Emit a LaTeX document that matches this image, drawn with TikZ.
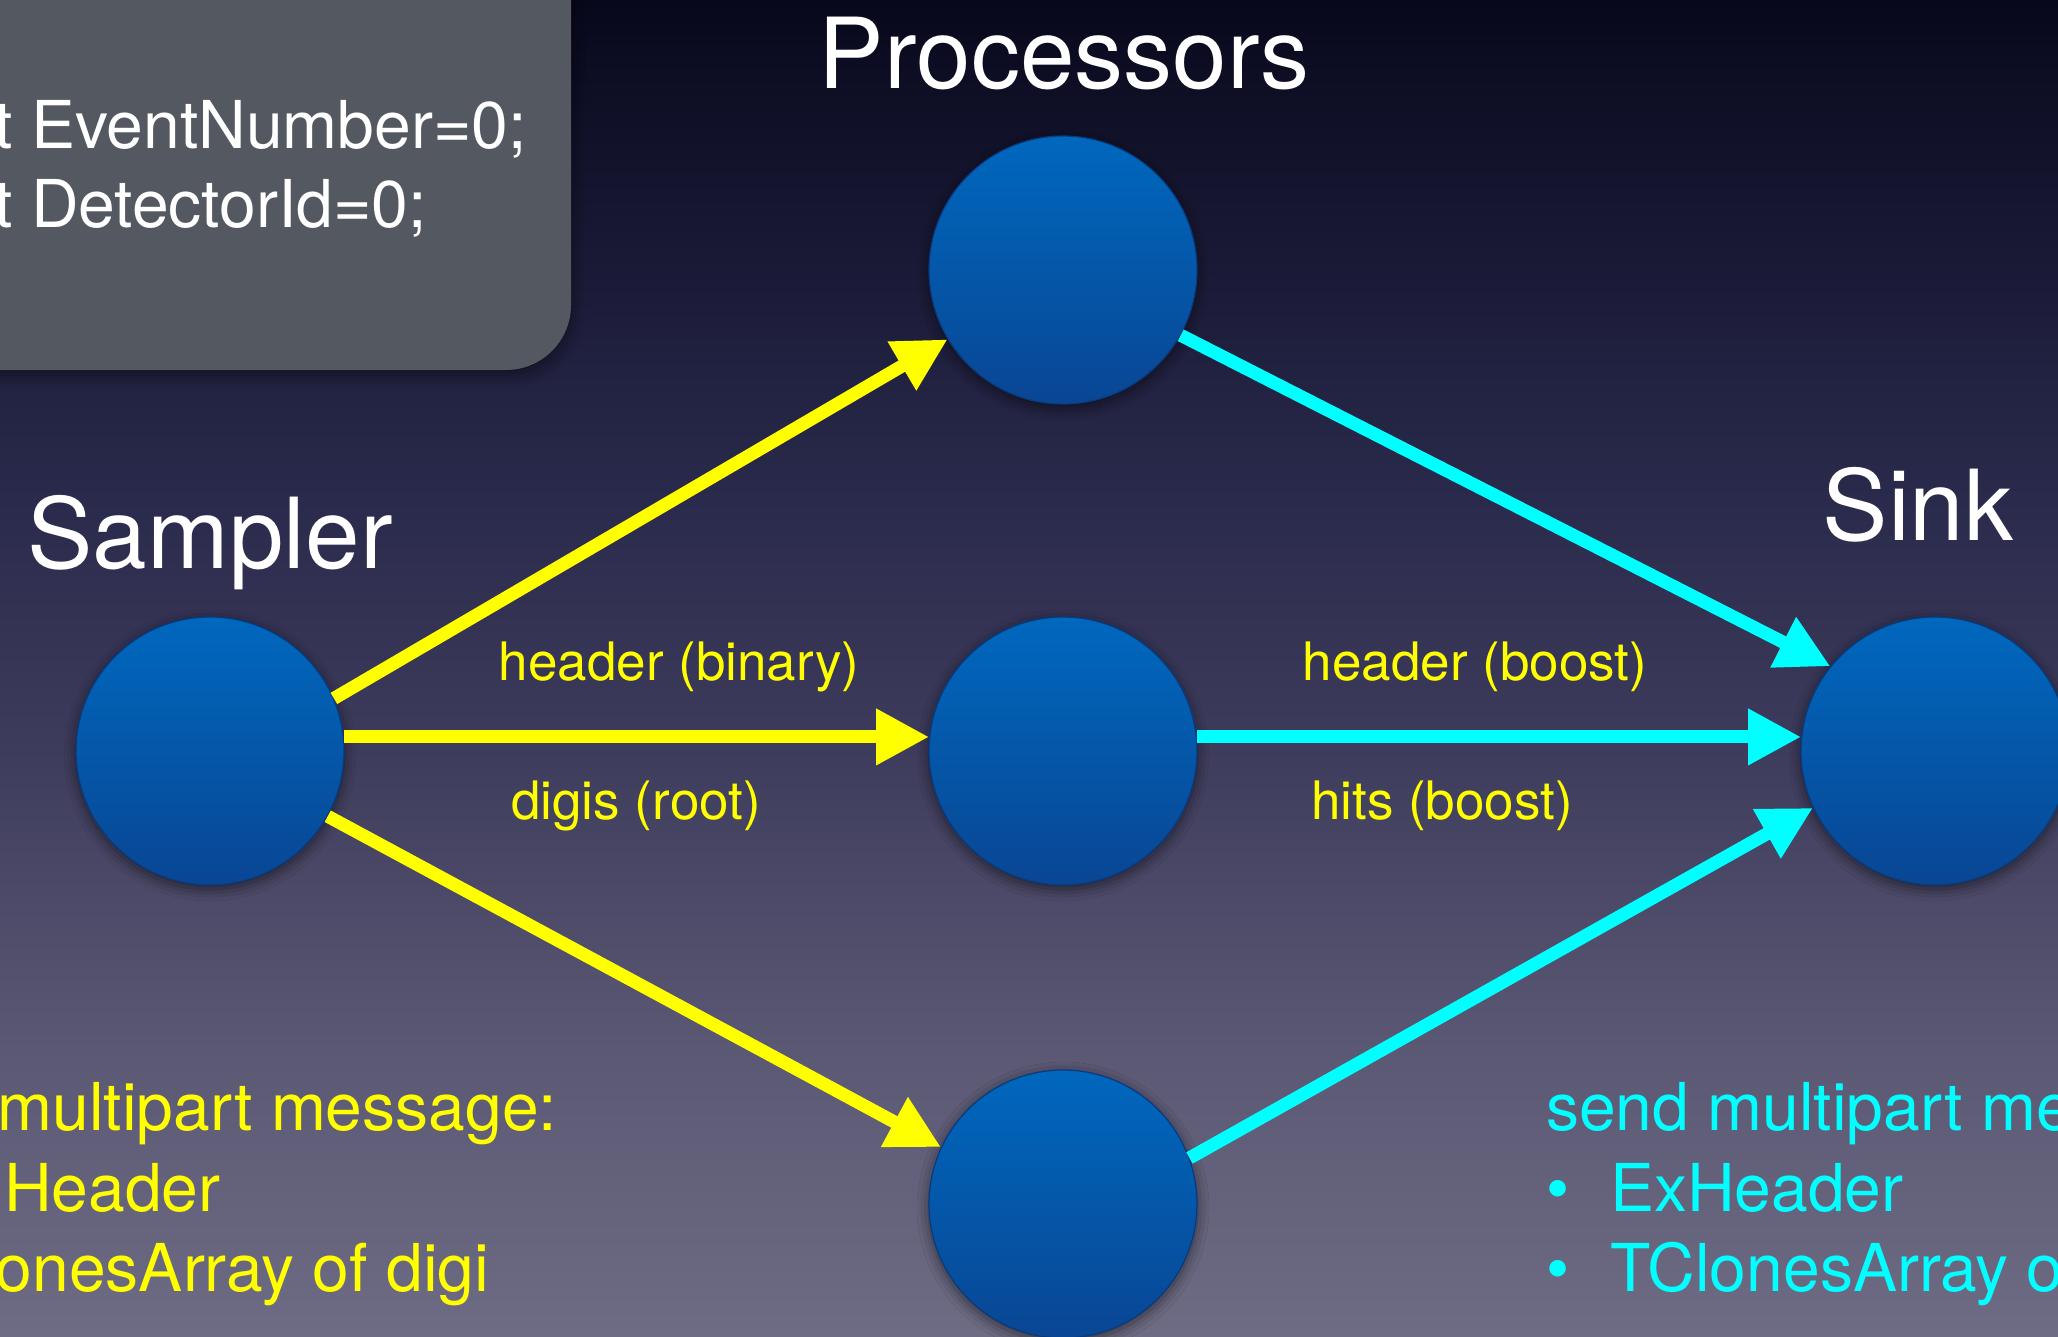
\documentclass[tikz,border=0pt]{standalone}
\usepackage{fontspec}
\setmainfont{TeX Gyre Heros}
\usetikzlibrary{arrows.meta,shadows.blur}
\definecolor{bgA}{RGB}{8,8,28}
\definecolor{bgB}{RGB}{28,28,58}
\definecolor{bgC}{RGB}{42,42,76}
\definecolor{bgD}{RGB}{62,60,92}
\definecolor{bgE}{RGB}{90,88,115}
\definecolor{bgF}{RGB}{110,108,132}
\definecolor{nodeTop}{RGB}{0,104,190}
\definecolor{nodeBot}{RGB}{9,70,148}
\definecolor{nodeEdge}{RGB}{8,58,125}
\definecolor{boxgray}{RGB}{84,88,96}
\definecolor{ycol}{RGB}{255,255,0}
\definecolor{ccol}{RGB}{0,255,255}
\pgfdeclareverticalshading{bgshade}{100bp}{color(0bp)=(bgF); color(25bp)=(bgF); color(35.7bp)=(bgE); color(46.93bp)=(bgD); color(56.29bp)=(bgC); color(63.77bp)=(bgB); color(75bp)=(bgA); color(100bp)=(bgA)}
\begin{document}
\begin{tikzpicture}[x=1pt,y=-1pt,
  proc/.style={circle, minimum size=268pt, inner sep=0pt, top color=nodeTop, bottom color=nodeBot, draw=nodeEdge, line width=1.2pt,
    blur shadow={shadow xshift=0pt, shadow yshift=-4pt, shadow blur radius=12pt, shadow opacity=55}},
  yarr/.style={draw=ycol, line width=13pt, -{Triangle[length=53pt,width=53pt]}},
  carr/.style={draw=ccol, line width=13pt, -{Triangle[length=53pt,width=53pt]}},
  title/.style={font=\fontsize{98}{118}\selectfont, text=white, inner sep=0pt, anchor=base},
  lab/.style={font=\fontsize{53}{64}\selectfont, text=ycol, inner sep=0pt, anchor=base},
  body/.style={font=\fontsize{66}{80}\selectfont, inner sep=0pt, anchor=base west}]
\useasboundingbox (0,0) rectangle (2058,1336);
\clip (0,0) rectangle (2058,1336);
\shade[shading=bgshade] (0,0) rectangle (2058,1336);
% code box
\fill[boxgray, rounded corners=65pt, blur shadow={shadow xshift=0pt, shadow yshift=-4pt, shadow blur radius=14pt, shadow opacity=50}] (-200,-200) rectangle (571,370);
\node[body, text=white] (ev) at (31,148) {\llap{int }EventNumber=0;};
\node[body, text=white] (det) at (31,227) {\llap{int }DetectorId=0;};
% titles
\node[title] (tproc) at (1064,88) {Processors};
\node[title] (tsamp) at (210,568) {Sampler};
\node[title] (tsink) at (1918,540) {Sink};
% nodes
\node[proc] (s) at (210,751) {};
\node[proc] (p1) at (1063,270) {};
\node[proc] (p2) at (1063,751) {};
\node[proc] (p3) at (1063,1204) {};
\node[proc] (k) at (1935,751) {};
% connectors
\draw[yarr] (s.23.5) -- (p1.211);
\draw[yarr] (s.6.4) -- (p2.174);
\draw[yarr] (s.-29.5) -- (p3.155);
\draw[carr] (p1.-29) -- (k.141);
\draw[carr] (p2.6) -- (k.174);
\draw[carr] (p3.20) -- (k.205);
% edge labels
\node[lab] (l1) at (679,680) {header (binary)};
\node[lab] (l2) at (636,819) {digis (root)};
\node[lab] (l3) at (1475,680) {header (boost)};
\node[lab] (l4) at (1442,819) {hits (boost)};
% left message text
\node[body, text=ycol] (y1) at (-164,1130) {send multipart message:};
\node[body, text=ycol] (y2) at (4,1211) {\llap{\textbullet\hspace*{41pt}}Header};
\node[body, text=ycol] (y3) at (-104,1291) {\llap{\textbullet\hspace*{41pt}}TClonesArray of digi};
% right message text
\node[body, text=ccol] (c1) at (1546,1130) {send multipart message:};
\node[body, text=ccol] (c2) at (1610,1211) {\llap{\textbullet\hspace*{41pt}}ExHeader};
\node[body, text=ccol] (c3) at (1610,1291) {\llap{\textbullet\hspace*{41pt}}TClonesArray of hits};
\end{tikzpicture}
\end{document}
